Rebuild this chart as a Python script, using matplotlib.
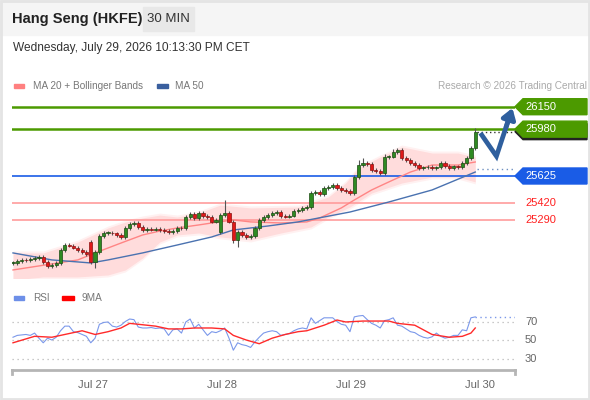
import matplotlib
matplotlib.use("Agg")
import matplotlib.pyplot as plt
from matplotlib.patches import Rectangle, Polygon
import numpy as np

plt.rcParams["font.family"] = ["Liberation Sans", "DejaVu Sans"]

# ---- data (30 min candles, Jul 24 night -> Jul 30) ----
closes = [24966, 24981, 24989, 24986, 24996, 25004, 25011, 24973, 24943, 24951,
          24966, 25064, 25102, 25098, 25080, 25064, 25049, 25034, 24973, 25049,
          25170, 25193, 25196, 25190, 25178, 25163, 25231, 25261, 25269, 25239,
          25216, 25226, 25219, 25224, 25216, 25208, 25201, 25208, 25231, 25228,
          25314, 25337, 25307, 25345, 25322, 25314, 25277, 25292, 25330, 25345,
          25277, 25140, 25201, 25178, 25163, 25170, 25231, 25292, 25314, 25330,
          25345, 25352, 25322, 25318, 25325, 25360, 25367, 25383, 25390, 25496,
          25504, 25489, 25534, 25542, 25557, 25534, 25519, 25511, 25496, 25617,
          25708, 25723, 25716, 25670, 25663, 25648, 25769, 25772, 25807, 25822,
          25761, 25746, 25723, 25708, 25686, 25690, 25693, 25683, 25690, 25723,
          25701, 25686, 25697, 25690, 25723, 25761, 25837, 25958]
gap_opens = {18: 25125, 48: 25201}
high_marks = {18: 25140, 49: 25443, 69: 25510, 80: 25745, 81: 25760,
              86: 25790, 88: 25830, 107: 25985}
low_marks = {8: 24930, 19: 24928, 51: 25120, 52: 25087}

ma20_idx = [0, 15, 19, 25, 30, 34, 38, 43, 46, 51, 55, 62, 68, 71, 76, 79, 83, 87, 92, 97, 103, 107]
ma20 = [24913, 24989, 25042, 25117, 25178, 25208, 25231, 25254, 25269, 25292, 25277,
        25269, 25277, 25307, 25383, 25443, 25519, 25580, 25655, 25708, 25708, 25731]

ma50_idx = [0, 9, 18, 22, 30, 38, 46, 51, 59, 66, 78, 87, 97, 107]
ma50 = [25042, 24989, 24966, 24989, 25042, 25102, 25163, 25216, 25246, 25277,
        25352, 25428, 25519, 25655]

bb_up_idx = [0, 7, 15, 22, 26, 30, 34, 38, 43, 48, 55, 66, 73, 77, 80, 85, 90, 97, 103, 107]
bb_up = [25042, 25042, 25125, 25231, 25276, 25307, 25329, 25314, 25345, 25405, 25383,
         25390, 25466, 25572, 25686, 25769, 25845, 25799, 25799, 25769]
bb_lo_idx = [0, 7, 15, 22, 26, 30, 34, 38, 43, 48, 55, 62, 69, 73, 78, 83, 90, 97, 103, 107]
bb_lo = [24837, 24860, 24860, 24875, 24913, 25004, 25125, 25178, 25193, 25163, 25140,
         25193, 25239, 25314, 25390, 25496, 25572, 25617, 25617, 25580]

rsi = [53, 55, 55.5, 56, 55, 57.5, 52, 47, 52, 50, 53, 60, 65, 65, 59, 58, 56, 54, 47, 52,
       67, 69, 69.5, 65, 64, 66, 70, 72.7, 72, 64, 63, 63, 63.5, 62.5, 63, 62, 55, 61, 62, 57.5,
       69.5, 72.7, 63, 67, 61, 55, 59, 58, 60, 63, 52, 39, 47, 45, 44, 42, 48, 53, 57.5, 59,
       60, 59, 55, 56, 57, 60, 62, 63, 62, 74, 68, 71, 74, 74, 74, 70, 67, 66, 59, 75,
       76, 76.5, 72, 68, 66, 63, 71, 72, 74, 66, 65, 62, 59, 58, 55, 53, 52, 53.5, 57.5, 54,
       52, 53, 55, 55, 61, 60, 74, 75]
rsi_ma_idx = [0, 5, 9, 16, 19, 22, 25, 27, 29, 33, 36, 39, 42, 46, 49, 51, 54, 57, 60, 63,
              66, 68, 72, 75, 77, 81, 87, 89, 93, 97, 101, 104, 106, 107]
rsi_ma = [47, 54, 53, 60, 56, 59, 63, 68, 67, 65, 62, 62, 63, 63, 62, 55, 50, 46, 52, 56,
          59, 60, 66, 71.6, 69.5, 70.5, 70.5, 68, 66, 56, 53, 54, 57.5, 63]

resist_levels = [26150, 25980]
pivot_level = 25625
support_levels = [25420, 25290]
proj_steps = [1.2, 4.9, 8.6]
proj_prices = [25950, 25775, 26140]

day_ticks = [18.5, 48.4, 78.3, 108.1]
day_labels = ["Jul 27", "Jul 28", "Jul 29", "Jul 30"]
rsi_levels = [70, 50, 30]

# ---- figure ----
W, H = 590, 400
fig = plt.figure(figsize=(W / 100, H / 100), dpi=100, facecolor="white")


def fx(px):
    return px / W


def fy(py):
    return 1 - py / H


# header band and frame
fig.patches.append(Rectangle((0, fy(35)), 1, 35 / H, transform=fig.transFigure,
                             color="#f5f5f5", zorder=0))
fig.patches.append(Rectangle((fx(143), fy(31)), 51 / W, 24 / H, transform=fig.transFigure,
                             color="#e8e8e8", zorder=1))
fig.patches.append(Rectangle((0.001, 0.003), 0.997, 0.995, transform=fig.transFigure,
                             fill=False, edgecolor="#e4e4e4", lw=2, zorder=1))
fig.text(fx(12), fy(19), "Hang Seng (HKFE)", fontsize=10.5, fontweight="bold",
         color="#222222", va="center")
fig.text(fx(168.5), fy(19), "30 MIN", fontsize=9.5, color="#333333", va="center", ha="center")
fig.text(fx(13), fy(48), "Wednesday, July 29, 2026 10:13:30 PM CET", fontsize=8.6,
         color="#333333", va="center")

# legends
fig.patches.append(Rectangle((fx(14), fy(88)), 10 / W, 4 / H, transform=fig.transFigure,
                             color="#ff8080"))
fig.text(fx(33), fy(86), "MA 20 + Bollinger Bands", fontsize=7.2, color="#777777", va="center")
fig.patches.append(Rectangle((fx(157), fy(88)), 11 / W, 4 / H, transform=fig.transFigure,
                             color="#3a5f9e"))
fig.text(fx(175), fy(86), "MA 50", fontsize=7.2, color="#777777", va="center")
fig.text(fx(587), fy(86), "Research \u00a9 2026 Trading Central", fontsize=7.2,
         color="#aaaaaa", va="center", ha="right")
fig.patches.append(Rectangle((fx(14), fy(300)), 10 / W, 4 / H, transform=fig.transFigure,
                             color="#6d8fe8"))
fig.text(fx(33), fy(298), "RSI", fontsize=7.2, color="#777777", va="center")
fig.patches.append(Rectangle((fx(62), fy(300)), 12 / W, 4 / H, transform=fig.transFigure,
                             color="#ff0000"))
fig.text(fx(82), fy(298), "9MA", fontsize=7.2, color="#777777", va="center")

# ---- price panel ----
ax = fig.add_axes([fx(12), fy(278), fx(515) - fx(12), (278 - 98) / H])
ax.set_facecolor("none")
xlim = (-0.23, 116.2)
ax.set_xlim(*xlim)
ax.set_ylim(24852, 26216)
for s in ax.spines.values():
    s.set_visible(False)
ax.set_xticks([])
ax.set_yticks([])

n = len(closes)
idx = np.arange(n)
c = np.array(closes, dtype=float)
o = np.concatenate([[c[0]], c[:-1]])
for k, v in gap_opens.items():
    o[k] = v
hi = np.maximum(o, c) + 12
lo = np.minimum(o, c) - 12
for k, v in high_marks.items():
    hi[k] = v
for k, v in low_marks.items():
    lo[k] = v

# bollinger band (soft pink)
up = np.interp(idx, bb_up_idx, bb_up)
dn = np.interp(idx, bb_lo_idx, bb_lo)
ax.fill_between(idx, up + 15, dn - 15, color="#ffe6e6", alpha=0.55, lw=0, zorder=1)
ax.fill_between(idx, up, dn, color="#ffdada", alpha=0.9, lw=0, zorder=1)

# levels
for lv in resist_levels:
    ax.axhline(lv, color="#4c9a00", lw=1.8, zorder=2)
ax.axhline(pivot_level, color="#1a5ce6", lw=1.2, zorder=2)
for lv in support_levels:
    ax.axhline(lv, color="#ff9c9c", lw=1.2, zorder=2)

ax.plot(ma20_idx, ma20, color="#ff8585", lw=1.0, zorder=3)
ax.plot(ma50_idx, ma50, color="#4a72b0", lw=1.0, zorder=3)

# candles
up_mask = c >= o
ax.vlines(idx, lo, hi, color="#555555", lw=0.8, zorder=4)
body = np.maximum(np.abs(c - o), 6)
ax.bar(idx[up_mask], body[up_mask], bottom=np.minimum(o, c)[up_mask], width=0.74,
       color="#2f8a22", edgecolor="#1b4a12", lw=0.5, zorder=5)
ax.bar(idx[~up_mask], body[~up_mask], bottom=np.minimum(o, c)[~up_mask], width=0.74,
       color="#e01818", edgecolor="#8a1010", lw=0.5, zorder=5)

# dotted extensions to the labels
ax.plot([n - 0.5, xlim[1]], [c[-1], c[-1]], color="#333333", lw=1, ls=(0, (1, 2)), zorder=3)
ax.plot([n - 0.5, xlim[1]], [ma50[-1] + 20, ma50[-1] + 20], color="#6d8fc0", lw=1,
        ls=(0, (1, 2.5)), zorder=3)

# projection arrow
px_ = [n - 1 + s for s in proj_steps]
ax.plot(px_[:2] + [px_[1] + 0.8 * (px_[2] - px_[1])],
        proj_prices[:2] + [proj_prices[1] + 0.8 * (proj_prices[2] - proj_prices[1])],
        color="#2f5f9e", lw=3.4, solid_capstyle="butt", solid_joinstyle="miter",
        zorder=6, clip_on=False)
ax.annotate("", xy=(px_[2], proj_prices[2]),
            xytext=(px_[1] + 0.6 * (px_[2] - px_[1]), proj_prices[1] + 0.6 * (proj_prices[2] - proj_prices[1])),
            arrowprops=dict(arrowstyle="-|>,head_length=0.6,head_width=0.4", color="#2f5f9e",
                            lw=3.4, shrinkA=0, shrinkB=0), zorder=6, annotation_clip=False)

# price labels on the right
ytr = ax.get_yaxis_transform()
ppx = (ax.get_ylim()[1] - ax.get_ylim()[0]) / 180.0
aw = 503.0


def tag(level, color, shadow=False):
    h = 8 * ppx
    x0, x1, x2 = 1.0, 1 + 8 / aw, 1 + 72 / aw
    pts = [(x0, level), (x1, level + h), (x2, level + h), (x2, level - h), (x1, level - h)]
    if shadow:
        sh = [(x, y - 2.5 * ppx) for x, y in pts]
        ax.add_patch(Polygon(sh, closed=True, transform=ytr, color="#222222",
                             clip_on=False, zorder=6))
    ax.add_patch(Polygon(pts, closed=True, transform=ytr, color=color, clip_on=False, zorder=7))
    ax.text(1 + 10 / aw, level, str(level), transform=ytr, color="white", fontsize=8,
            va="center", ha="left", zorder=8)


tag(resist_levels[0], "#4c9a00")
tag(resist_levels[1], "#4c9a00", shadow=True)
tag(pivot_level, "#1a5ce6")
for lv in support_levels:
    ax.text(1 + 10 / aw, lv, str(lv), transform=ytr, color="#ff2020", fontsize=8,
            va="center", ha="left")

# ---- RSI panel ----
rax = fig.add_axes([fx(12), fy(370), fx(515) - fx(12), (370 - 308) / H])
rax.set_facecolor("none")
rax.set_xlim(*xlim)
rax.set_ylim(17.6, 84.6)
for s in ["top", "left", "right"]:
    rax.spines[s].set_visible(False)
rax.spines["bottom"].set_color("#b5b5b5")
rax.spines["bottom"].set_linewidth(2)
rax.set_yticks([])
rax.set_xticks(day_ticks)
rax.set_xticklabels(day_labels, fontsize=8, color="#666666")
rax.tick_params(axis="x", length=0, pad=7)
for xe in (0.0, 1.0):
    rax.plot([xe, xe], [0, -0.06], transform=rax.transAxes, color="#b5b5b5", lw=2,
             clip_on=False)
for lv in rsi_levels:
    rax.axhline(lv, color="#b8b8b8", lw=0.9, ls=(0, (1, 3)))
    rax.text(1 + 10 / aw, lv, str(lv), transform=rax.get_yaxis_transform(), fontsize=8,
             color="#666666", va="center", ha="left")
rax.plot(idx, rsi, color="#7b98ea", lw=0.8)
rax.plot([n - 1, xlim[1]], [rsi[-1], rsi[-1]], color="#7b98ea", lw=1, ls=(0, (1, 2.5)))
rax.plot(rsi_ma_idx, rsi_ma, color="#ff2a2a", lw=1.0)

fig.savefig("out.png", dpi=100, facecolor="white")
